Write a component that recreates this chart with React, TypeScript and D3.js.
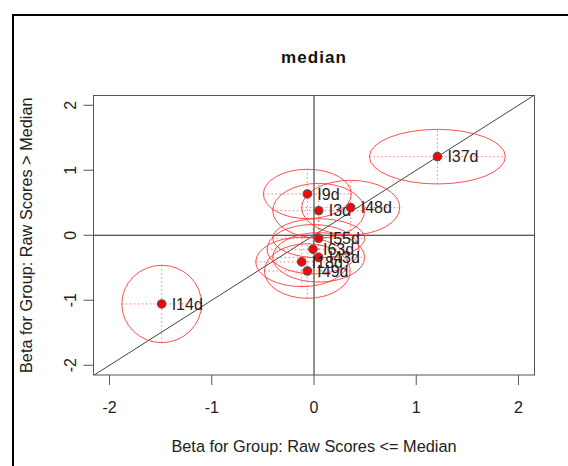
import React from "react";
import * as d3 from "d3";

const labels = ["I14d", "I37d", "I9d", "I3d", "I48d", "I55d", "I63d", "I43d", "I18d", "I49d"];
const xVals = [-1.49, 1.207, -0.065, 0.046, 0.359, 0.046, -0.01, 0.046, -0.12, -0.065];
const yVals = [-1.057, 1.209, 0.635, 0.378, 0.425, -0.046, -0.215, -0.34, -0.41, -0.55];
const xRad = [0.39, 0.665, 0.43, 0.45, 0.48, 0.45, 0.45, 0.45, 0.45, 0.42];
const yRad = [0.595, 0.42, 0.38, 0.42, 0.42, 0.3, 0.38, 0.38, 0.38, 0.42];
const xTicks = [-2, -1, 0, 1, 2];
const yTicks = [-2, -1, 0, 1, 2];
const title = "median";
const xLabel = "Beta for Group: Raw Scores <= Median";
const yLabel = "Beta for Group: Raw Scores > Median";

export default function App() {
  const W = 568, H = 466;
  const L = 93.5, R = 534.5, T = 95.5, B = 375;
  const x = d3.scaleLinear().domain([-2.157, 2.157]).range([L, R]);
  const y = d3.scaleLinear().domain([-2.15, 2.15]).range([B, T]);
  const font = "'Liberation Sans', Arial, Helvetica, sans-serif";
  const diag = d3.line<number>().x((v) => x(v)).y((v) => y(v))([-3, 3]) || "";
  const pts = labels.map((l, i) => ({ l, cx: xVals[i], cy: yVals[i], rx: xRad[i], ry: yRad[i] }));
  return (
    <svg width={W} height={H} style={{ position: "absolute", left: 0, top: 0, background: "#fff" }} fontFamily={font}>
      <rect x={0} y={0} width={W} height={H} fill="#fff" />
      <rect x={13} y={15} width={W + 20} height={H + 20} fill="none" stroke="#000" strokeWidth={2} />
      <defs>
        <clipPath id="plotclip">
          <rect x={L} y={T} width={R - L} height={B - T} />
        </clipPath>
      </defs>
      <text x={314} y={63} textAnchor="middle" fontWeight="bold" fontSize={17} letterSpacing={1.1} fill="#111">{title}</text>
      <g clipPath="url(#plotclip)">
        <line x1={L} x2={R} y1={y(0)} y2={y(0)} stroke="#222" strokeWidth={1} />
        <line x1={x(0)} x2={x(0)} y1={T} y2={B} stroke="#222" strokeWidth={1} />
        <path d={diag} stroke="#444" strokeWidth={1} fill="none" />
        {pts.map((p, i) => (
          <g key={"e" + i}>
            <ellipse cx={x(p.cx)} cy={y(p.cy)} rx={x(p.cx + p.rx) - x(p.cx)} ry={y(p.cy) - y(p.cy + p.ry)} fill="none" stroke="#ff3030" strokeOpacity={0.85} strokeWidth={1} />
            <line x1={x(p.cx - p.rx)} x2={x(p.cx + p.rx)} y1={y(p.cy)} y2={y(p.cy)} stroke="#ff3030" strokeOpacity={0.65} strokeDasharray="1.5,2.5" strokeWidth={1} />
            <line x1={x(p.cx)} x2={x(p.cx)} y1={y(p.cy - p.ry)} y2={y(p.cy + p.ry)} stroke="#ff3030" strokeOpacity={0.65} strokeDasharray="1.5,2.5" strokeWidth={1} />
          </g>
        ))}
        {pts.map((p, i) => (
          <g key={"p" + i}>
            <circle cx={x(p.cx)} cy={y(p.cy)} r={4.2} fill="#ff0000" stroke="#555" strokeWidth={1.2} />
            <text x={x(p.cx) + 10} y={y(p.cy)} dy="0.36em" fontSize={16} fill="#222">{p.l}</text>
          </g>
        ))}
      </g>
      <rect x={L} y={T} width={R - L} height={B - T} fill="none" stroke="#555" strokeWidth={1} />
      {xTicks.map((t) => (
        <g key={"xt" + t}>
          <line x1={x(t)} x2={x(t)} y1={B} y2={B + 10} stroke="#555" />
          <text x={x(t)} y={407} dy="0.36em" textAnchor="middle" fontSize={16} fill="#222">{t}</text>
        </g>
      ))}
      {yTicks.map((t) => (
        <g key={"yt" + t}>
          <line x1={L - 10} x2={L} y1={y(t)} y2={y(t)} stroke="#555" />
          <text transform={`translate(70,${y(t)}) rotate(-90)`} dy="0.36em" textAnchor="middle" fontSize={16} fill="#222">{t}</text>
        </g>
      ))}
      <text x={314} y={446} dy="0.36em" textAnchor="middle" fontSize={16.3} fill="#222">{xLabel}</text>
      <text transform={`translate(26,${(T + B) / 2}) rotate(-90)`} dy="0.36em" textAnchor="middle" fontSize={16.3} fill="#222">{yLabel}</text>
    </svg>
  );
}
